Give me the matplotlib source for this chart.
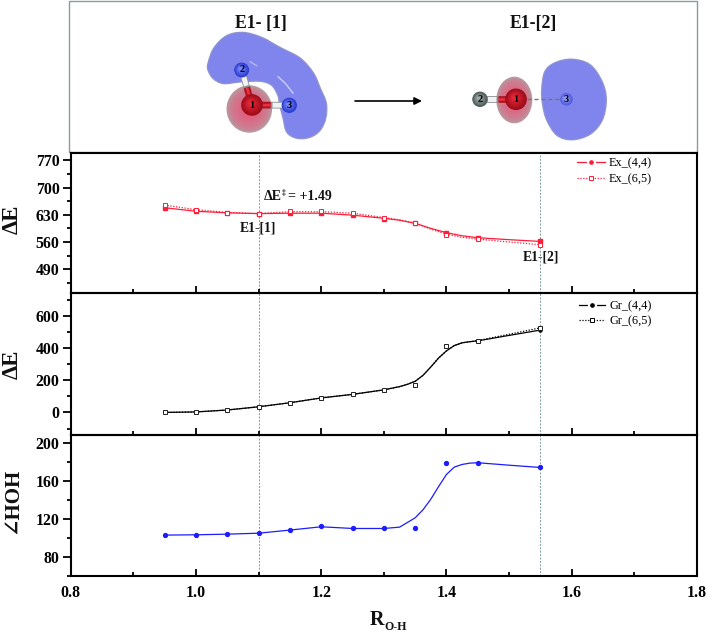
import numpy as np
import matplotlib
matplotlib.use("Agg")
import matplotlib.pyplot as plt
from matplotlib.lines import Line2D
from matplotlib.patches import Circle, Ellipse, PathPatch, Rectangle, FancyArrowPatch
from matplotlib.path import Path
from matplotlib.ticker import MultipleLocator, FixedLocator, FormatStrFormatter

plt.rcParams['font.family'] = ['Liberation Serif', 'DejaVu Serif']

# ---------- data ----------
r_points = [0.95, 1.00, 1.05, 1.10, 1.15, 1.20, 1.25, 1.30, 1.35, 1.40, 1.45, 1.55]
ex_44 = [648, 639, 635, 633, 635, 634, 629, 620, 610, 583.7, 571, 561.5]
ex_65 = [655, 643, 635, 633, 640, 639, 635, 622, 610, 579, 567.5, 553]
gr_44 = [0, 3, 15, 35, 60, 90, 112, 141, 168, 411, 444, 511]
gr_65 = [0, 3, 15, 35, 60, 90, 112, 141, 168, 411, 444, 525]
hoh = [103, 103.3, 104, 105, 108.3, 112.8, 110, 110, 110.5, 179.6, 179.6, 174.6]

# the drawn curves are smoothed and miss some of the points
ex_curve_r = [0.95, 1.0, 1.05, 1.1, 1.15, 1.2, 1.25, 1.3, 1.325, 1.35, 1.375, 1.4, 1.425, 1.45, 1.5, 1.55]
ex_44_curve = [648, 639, 635, 633, 634, 634, 629, 621, 616, 608, 595, 584, 576, 571, 566, 561.5]
ex_65_curve = [655, 643, 636, 633, 638, 638, 634, 623, 617, 609, 593, 580, 572, 567.5, 560, 553]

step_r = [0.95, 1.0, 1.05, 1.1, 1.15, 1.2, 1.25, 1.3, 1.325, 1.3375, 1.35, 1.3625, 1.375, 1.3875,
          1.4, 1.4125, 1.425, 1.4375, 1.45, 1.5, 1.55]
gr_44_curve = [0, 3, 15, 35, 60, 90, 112, 140, 160, 174, 193, 230, 282, 338, 382, 415, 432, 439, 444, 478, 511]
gr_65_curve = [0, 3, 15, 35, 60, 90, 112, 140, 160, 174, 193, 230, 282, 338, 382, 415, 432, 439, 446, 485, 525]
hoh_curve = [103, 103.3, 104, 105, 108.3, 111.8, 110, 110, 111.4, 116.3, 121.3, 129.8, 141, 154.5,
             167.2, 175, 177.8, 179.2, 179.6, 177, 174.6]

ex_yticks = [490, 560, 630, 700, 770]
gr_yticks = [0, 200, 400, 600]
hoh_yticks = [80, 120, 160, 200]
x_ticks = [0.8, 1.0, 1.2, 1.4, 1.6, 1.8]
marker_lines = [1.10, 1.55]

# ---------- layout helpers ----------
W, H = 708, 634
fig = plt.figure(figsize=(W / 100, H / 100), dpi=100)
L, R = 70.7, 697.0


def panel(top, bottom):
    return fig.add_axes([L / W, 1 - bottom / H, (R - L) / W, (bottom - top) / H])


RED = '#ff1c38'
BLUE = '#1c1cff'
VLINE = '#7f9a9a'

bg = fig.add_axes([0, 0, 1, 1], zorder=0)
bg.set_xlim(0, W)
bg.set_ylim(H, 0)
bg.axis('off')

ax1 = panel(152.5, 293)
ax2 = panel(293, 434.5)
ax3 = panel(434.5, 575.7)
for a in (ax1, ax2, ax3):
    a.set_zorder(2)
    a.set_xlim(0.8, 1.8)
    a.patch.set_alpha(0)
    a.xaxis.set_major_locator(FixedLocator(x_ticks))
    a.xaxis.set_minor_locator(MultipleLocator(0.1))
    a.xaxis.set_major_formatter(FormatStrFormatter('%.1f'))
    a.tick_params(axis='x', which='major', direction='in', length=5.3, width=1.3, labelsize=11.4, pad=7)
    a.tick_params(axis='x', which='minor', direction='in', length=2.8, width=1.3)
    a.tick_params(axis='y', which='major', direction='out', length=5.5, width=1.3, labelsize=11.4, pad=2.5)
    a.tick_params(axis='y', which='minor', direction='out', length=3, width=1.3)
    for s in a.spines.values():
        s.set_linewidth(1.5)
    for lab in a.get_xticklabels() + a.get_yticklabels():
        lab.set_fontweight('bold')
    for xv in marker_lines:
        a.axvline(xv, color=VLINE, lw=0.7, ls=(0, (2, 1.5)), zorder=1)
ax1.tick_params(axis='x', labelbottom=False)
ax2.tick_params(axis='x', labelbottom=False)

# ---------- panel 1 ----------
ax1.set_ylim(429, 790)
ax1.yaxis.set_major_locator(FixedLocator(ex_yticks))
ax1.yaxis.set_minor_locator(MultipleLocator(35))
ax1.plot(ex_curve_r, ex_44_curve, color=RED, lw=0.9, zorder=3)
ax1.plot(ex_curve_r, ex_65_curve, color=RED, lw=0.9, ls=(0, (1, 1.3)), zorder=3)
ax1.plot(r_points, ex_44, ls='none', marker='s', ms=2.3, color=RED, zorder=4)
ax1.plot(r_points, ex_65, ls='none', marker='s', ms=2.4, mfc='white', mec=RED, mew=0.7, zorder=5)
ax1.legend(handles=[
    Line2D([], [], color=RED, lw=0.9, marker='o', ms=5, mfc=RED, mec='white', mew=1.6),
    Line2D([], [], color=RED, lw=0.9, ls=(0, (1, 1.3)), marker='s', ms=2.6, mfc='white', mec=RED, mew=0.7)],
    labels=['Ex_(4,4)', 'Ex_(6,5)'], loc='upper left', bbox_to_anchor=(577 / W, 1 - 157.5 / H),
    bbox_transform=fig.transFigure, frameon=False, fontsize=8.8, numpoints=1, borderpad=0, borderaxespad=0,
    handlelength=2.3, handletextpad=0.3, labelspacing=0.27)
TXT = dict(fontweight='bold', color='#111111', transform=bg.transData, va='baseline')
bg.text(264, 200, 'ΔE', fontsize=10, **TXT)
bg.text(281.5, 195, '‡', fontsize=5.5, **TXT)
bg.text(288, 200, '= +1.49', fontsize=10, **TXT)
bg.text(240, 231, 'E1-[1]', fontsize=9.8, **TXT)
bg.text(523, 260.5, 'E1-[2]', fontsize=9.8, **TXT)

# ---------- panel 2 ----------
ax2.set_ylim(-137, 741)
ax2.yaxis.set_major_locator(FixedLocator(gr_yticks))
ax2.yaxis.set_minor_locator(MultipleLocator(100))
ax2.plot(step_r, gr_44_curve, color='black', lw=0.9, zorder=3)
ax2.plot(step_r, gr_65_curve, color='black', lw=0.9, ls=(0, (1, 1.3)), zorder=3)
ax2.plot(r_points, gr_44, ls='none', marker='o', ms=2.2, color='black', zorder=4)
ax2.plot(r_points, gr_65, ls='none', marker='s', ms=2.4, mfc='white', mec='#222222', mew=0.7, zorder=5)
ax2.legend(handles=[
    Line2D([], [], color='black', lw=0.9, marker='o', ms=5, mfc='black', mec='white', mew=1.6),
    Line2D([], [], color='black', lw=0.9, ls=(0, (1, 1.3)), marker='s', ms=2.6, mfc='white', mec='black', mew=0.7)],
    labels=['Gr_(4,4)', 'Gr_(6,5)'], loc='upper left', bbox_to_anchor=(579 / W, 1 - 299.8 / H),
    bbox_transform=fig.transFigure, frameon=False, fontsize=8.8, numpoints=1, borderpad=0, borderaxespad=0,
    handlelength=2.1, handletextpad=0.4, labelspacing=0.27)

# ---------- panel 3 ----------
ax3.set_ylim(60, 209.5)
ax3.yaxis.set_major_locator(FixedLocator(hoh_yticks))
ax3.yaxis.set_minor_locator(MultipleLocator(20))
ax3.plot(step_r, hoh_curve, color=BLUE, lw=0.9, zorder=3)
ax3.plot(r_points, hoh, ls='none', marker='o', ms=2.8, color=BLUE, zorder=4)

# ---------- axis titles ----------
for a, txt, yc, fs in ((ax1, 'ΔE', 219.7, 16.5), (ax2, 'ΔE', 364.7, 16.5), (ax3, '∠HOH', 500.5, 15)):
    a.set_ylabel(txt, fontsize=fs, fontweight='bold', color='#111111')
    a.yaxis.set_label_coords(17.5 / W, 1 - yc / H, transform=fig.transFigure)
    a.yaxis.label.set_va('baseline')
bg.text(369.5, 625, 'R', fontsize=14.5, **TXT)
bg.text(384.5, 630, 'O-H', fontsize=8.6, **TXT)


# ---------- molecule illustration ----------
def blend(c1, c2, t):
    return tuple(np.array(matplotlib.colors.to_rgb(c1)) * (1 - t) + np.array(matplotlib.colors.to_rgb(c2)) * t)


def blob(points, face, edge, z=1):
    """Closed smooth outline through the given points (Catmull-Rom as Bezier segments)."""
    p = np.asarray(points, float)
    n = len(p)
    verts = [p[0]]
    codes = [Path.MOVETO]
    for i in range(n):
        p0, p1, p2, p3 = p[i - 1], p[i], p[(i + 1) % n], p[(i + 2) % n]
        verts += [p1 + (p2 - p0) / 6, p2 - (p3 - p1) / 6, p2]
        codes += [Path.CURVE4] * 3
    path = Path(verts, codes)
    bg.add_patch(PathPatch(path, fc=edge, ec=edge, lw=1.4, zorder=z))
    bg.add_patch(PathPatch(path, fc=face, ec=blend(face, edge, 0.5), lw=0.6, zorder=z + 0.1))


def sphere(cx, cy, r, dark, light, z=5):
    for t in np.linspace(0, 1, 14):
        rr = r * (1 - 0.88 * t)
        bg.add_patch(Circle((cx - 0.18 * r * t, cy - 0.18 * r * t), rr, fc=blend(dark, light, t), ec='none', zorder=z + t))


def pink(cx, cy, rx, ry, z=2):
    for t in np.linspace(0, 1, 12):
        bg.add_patch(Ellipse((cx, cy), 2 * rx * (1 - 0.8 * t), 2 * ry * (1 - 0.8 * t),
                             fc=blend('#b9979f', '#e65a7c', t ** 0.6), ec='none', zorder=z + 0.1 * t))


def bond(x0, y0, x1, y1, w=4.8, z=4):
    xm, ym = (x0 + x1) / 2, (y0 + y1) / 2
    bg.plot([x0, x1], [y0, y1], color='#8a8f90', lw=w, solid_capstyle='butt', zorder=z)
    bg.plot([x0 + (x1 - x0) * .55, x0 + (x1 - x0) * .8], [y0 + (y1 - y0) * .55, y0 + (y1 - y0) * .8],
            color='#f2f2f2', lw=w * .75, solid_capstyle='butt', zorder=z + 0.1)
    bg.plot([x0, xm], [y0, ym], color='#b01020', lw=w, solid_capstyle='butt', zorder=z + 0.2)
    bg.plot([x0, xm], [y0, ym], color='#e83040', lw=w * .4, solid_capstyle='butt', zorder=z + 0.3)


def atom_no(x, y, s, color='black'):
    bg.text(x, y, s, fontsize=7.4, fontweight='bold', ha='center', va='center', color=color, zorder=8)


bg.add_patch(Rectangle((69, 1.2), 628.3, 151, fc='white', ec='#8a9c9c', lw=1.0, zorder=0))
LOBE = '#7f85ec'
LOBE_EDGE = '#9a9cc4'

# left state
blob([(208.3, 63.3), (214, 48.3), (226.7, 36), (243.3, 32.7), (261.7, 37.7), (280, 47.7), (300, 58.3),
      (313.3, 73.3), (320, 88.3), (326, 103), (325.5, 118), (320, 130), (310, 137), (297, 138), (287, 132),
      (283.3, 118), (280, 105), (278, 95), (271.7, 85), (260, 81), (240, 81.7), (223.3, 83.3), (213.3, 78.3),
      (208.3, 70)], LOBE, LOBE_EDGE)
bg.plot([278, 285, 293], [76.7, 83, 93], color='white', lw=1.0, alpha=.6, zorder=1.5)
bg.plot([250, 256.7], [61.7, 65.7], color='white', lw=0.9, alpha=.45, zorder=1.5)
pink(249.3, 109, 22.8, 23.7, z=2)
bond(252, 105, 241.7, 70)
bond(252, 105, 289.3, 105.3)
sphere(241.7, 70, 7.4, '#2a3ad0', '#7d8cff')
sphere(289.3, 105.3, 7.6, '#2a3ad0', '#7d8cff')
sphere(252, 105, 10.8, '#9c0c18', '#e8283a')
atom_no(241.7, 69.5, '2')
atom_no(252, 105, '1')
atom_no(289.3, 105.3, '3')

# arrow
bg.add_patch(FancyArrowPatch((355, 101), (422, 101), arrowstyle='-|>', mutation_scale=11, color='black',
                             lw=1.2, shrinkA=0, shrinkB=0, zorder=3))

# right state
blob([(572, 59.5), (590, 65), (602, 82), (606, 100), (602, 120), (590, 134), (572, 139.5), (557, 135),
      (547, 120), (543, 105), (542, 90), (545, 72), (555, 63)], LOBE, LOBE_EDGE)
pink(514.3, 100, 18, 23.3, z=2)
bg.plot([527, 561], [99.3, 99.3], color='#707878', lw=1.0, ls=(0, (3, 2)), zorder=3.5)
bond(516, 99.3, 480, 99.3)
sphere(480, 99.3, 7.7, '#4e5a58', '#a5b0ae')
sphere(516, 99.3, 10.8, '#9c0c18', '#e8283a')
sphere(566.5, 99.3, 6.2, '#5058dd', '#9aa6ff')
atom_no(480, 99.3, '2')
atom_no(516, 99.3, '1')
atom_no(566.5, 99.3, '3')

TITLE = dict(fontsize=12.8, fontweight='bold', color='#111111', va='baseline', zorder=8)
bg.text(235, 28, 'E1- [1]', **TITLE)
bg.text(510, 28, 'E1-[2]', **TITLE)

fig.savefig('out.png', dpi=100)
